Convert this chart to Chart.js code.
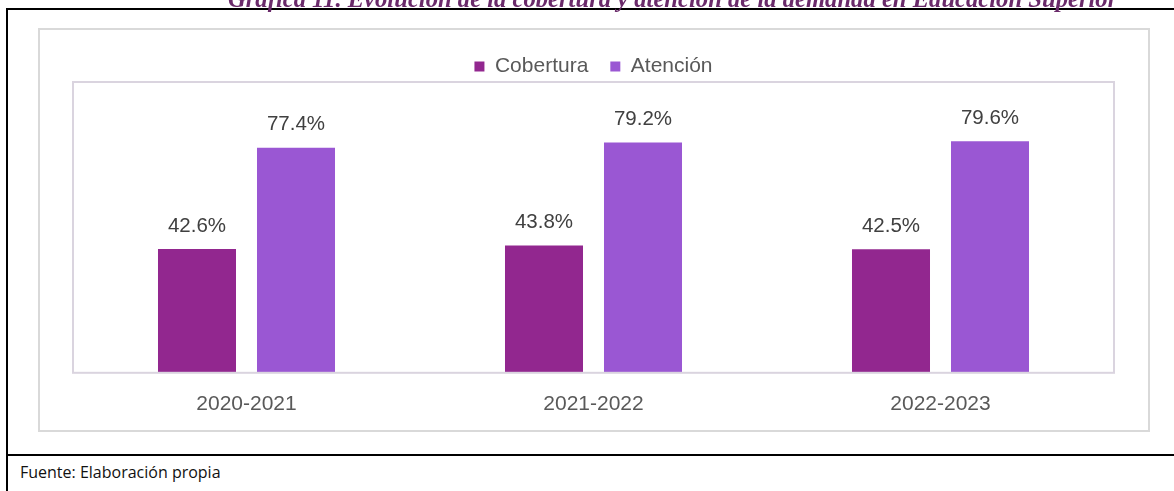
<!DOCTYPE html>
<html>
<head>
<meta charset="utf-8">
<script src="https://cdn.jsdelivr.net/npm/chart.js@4.4.1/dist/chart.umd.min.js"></script>
<style>
  html, body { margin: 0; padding: 0; background: #fff; }
  body { width: 1174px; height: 491px; position: relative; overflow: hidden; }
  .line { position: absolute; background: #000; }
  #box { position: absolute; left: 38px; top: 28px; width: 1108px; height: 400px; border: 2px solid #d9d9d9; }
  #footer { position: absolute; left: 20px; top: 462px; font: 16px "Open Sans", sans-serif; color: #111; line-height: 20px; }
  #wrap { position: absolute; left: 0; top: 0; width: 1174px; height: 491px; }
</style>
</head>
<body>
<div id="box"></div>
<div class="line" style="left:6px; top:8px; width:1168px; height:2px;"></div>
<div class="line" style="left:6px; top:8px; width:2px; height:483px;"></div>
<div class="line" style="left:6px; top:454px; width:1168px; height:2px;"></div>
<div id="footer">Fuente: Elaboración propia</div>
<div id="wrap"><canvas id="chart"></canvas></div>
<script>
document.addEventListener('DOMContentLoaded', () => {
    // --- DATA ---
    const periods = ['2020-2021', '2021-2022', '2022-2023'];
    const cobertura = [42.6, 43.8, 42.5];
    const atencion = [77.4, 79.2, 79.6];
    const seriesNames = ['Cobertura', 'Atención'];
    const titleText = 'Gráfica 11. Evolución de la cobertura y atención de la demanda en Educación Superior';

    // legend box is a bit too tall by default, pull the plot up under it
    const legendTrim = {
        id: 'legendTrim',
        afterInit(chart) {
            const lg = chart.legend;
            const fit = lg.fit.bind(lg);
            lg.fit = function () { fit(); this.height -= 5; };
        }
    };

    // title (mostly cut off at the top) + plot frame + value labels
    const decorations = {
        id: 'decorations',
        beforeDraw(chart) {
            const ctx = chart.ctx;
            ctx.save();
            ctx.font = 'italic bold 22px "Liberation Serif", "Times New Roman", serif';
            const w = ctx.measureText(titleText).width;
            const size = 22 * 890 / w;
            ctx.font = `italic bold ${size}px "Liberation Serif", "Times New Roman", serif`;
            ctx.fillStyle = '#6a2a6a';
            ctx.textAlign = 'left';
            ctx.textBaseline = 'alphabetic';
            ctx.fillText(titleText, 228, 6.5);
            ctx.restore();
        },
        afterDatasetsDraw(chart) {
            const ctx = chart.ctx;
            const a = chart.chartArea;
            ctx.save();
            ctx.strokeStyle = '#dad4df';
            ctx.lineWidth = 2;
            ctx.strokeRect(a.left, a.top, a.right - a.left, a.bottom - a.top);
            ctx.font = '20.5px "Liberation Sans", Arial, sans-serif';
            ctx.fillStyle = '#404040';
            ctx.textAlign = 'center';
            ctx.textBaseline = 'middle';
            chart.data.datasets.forEach((ds, i) => {
                chart.getDatasetMeta(i).data.forEach((bar, j) => {
                    ctx.fillText(ds.data[j].toFixed(1) + '%', bar.x, bar.y - 23);
                });
            });
            ctx.restore();
        }
    };

    new Chart(document.getElementById('chart'), {
        type: 'bar',
        data: {
            labels: periods,
            datasets: [
                { label: seriesNames[0], data: cobertura, backgroundColor: '#92278f' },
                { label: seriesNames[1], data: atencion, backgroundColor: '#9a57d3' }
            ]
        },
        options: {
            responsive: true,
            maintainAspectRatio: false,
            animation: false,
            categoryPercentage: 0.5706,
            barPercentage: 0.788,
            layout: { padding: { left: 73, right: 60, top: 34, bottom: 55 } },
            plugins: {
                legend: {
                    position: 'top',
                    labels: {
                        boxWidth: 10,
                        boxHeight: 10,
                        padding: 22,
                        color: '#595959',
                        font: { family: '"Liberation Sans", Arial, sans-serif', size: 21 }
                    }
                },
                tooltip: { enabled: false }
            },
            scales: {
                x: {
                    grid: { display: false, drawTicks: false },
                    border: { display: false },
                    ticks: {
                        padding: 19,
                        color: '#595959',
                        font: { family: '"Liberation Sans", Arial, sans-serif', size: 21 }
                    }
                },
                y: { display: false, min: 0, max: 100 }
            }
        },
        plugins: [legendTrim, decorations]
    });
});
</script>
</body>
</html>
